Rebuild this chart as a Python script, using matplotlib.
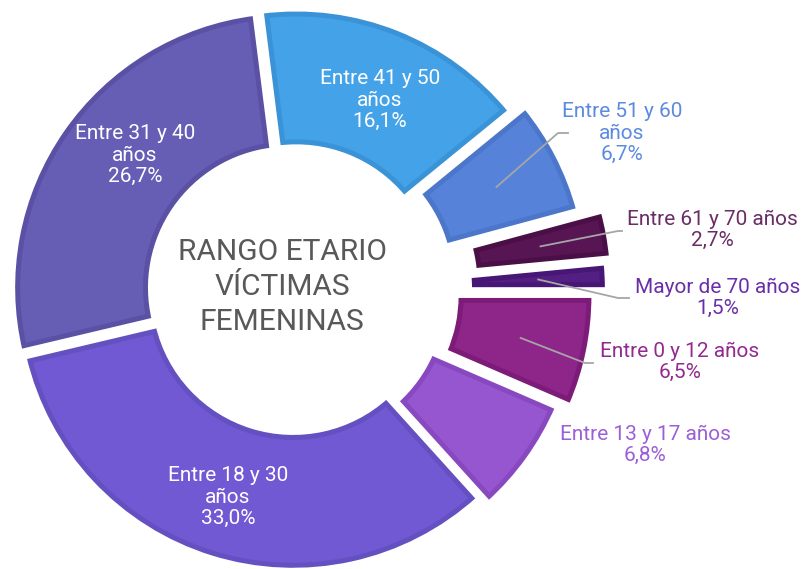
import math
import numpy as np
import matplotlib.pyplot as plt
from matplotlib.patches import Polygon

plt.rcParams['font.family'] = ['Roboto', 'DejaVu Sans']

# datos
rangos = ['Entre 0 y 12 años', 'Entre 13 y 17 años', 'Entre 18 y 30 años',
          'Entre 31 y 40 años', 'Entre 41 y 50 años', 'Entre 51 y 60 años',
          'Entre 61 y 70 años', 'Mayor de 70 años']
porcentajes = [6.5, 6.8, 33.0, 26.7, 16.1, 6.7, 2.7, 1.5]
titulo = 'RANGO ETARIO\nVÍCTIMAS\nFEMENINAS'

# estilo
relleno = ['#8E2589', '#9556CF', '#7159D3', '#665DB5',
           '#44A2E8', '#5682DA', '#571553', '#541F82']
borde = ['#7D1B79', '#8849C0', '#6450C0', '#5A51A5',
         '#3A93D6', '#4B76CA', '#4B0F47', '#481776']
color_texto = ['#932A8F', '#9C5FD8', 'white', 'white',
               'white', '#5C8AE0', '#6A2D66', '#6A2FA8']
separacion = [24, 12, 3, 6, 6, 20, 43, 37]
# cortes de linea de cada etiqueta
cortes = ['linea', 'linea', 'tres', 'tres', 'tres', 'tres', 'linea', 'linea']
pos_texto = [(680, 362), (645, 445), (228, 497), (135, 155),
             (380, 100), (622, 133), (712, 230), (718, 298)]
guia = [[(585, 363), (593, 363)], None, None, None, None,
        [(558, 133), (568, 133)], [(618, 231), (622, 231)],
        [(618, 298), (629, 298)]]

linea_blanca = 3.0   # pt, hueco entre porciones
grosor_borde = 5     # px, borde oscuro interior


def interior(w, b):
    # porcion reducida b unidades hacia dentro en todos sus lados
    cx, cy = w.center
    t1, t2 = math.radians(w.theta1), math.radians(w.theta2)
    ro = w.r - b
    ri = w.r - w.width + b
    ao, ai = math.asin(b / ro), math.asin(b / ri)
    ext = [(cx + ro * math.cos(t), cy + ro * math.sin(t))
           for t in np.linspace(t1 + ao, t2 - ao, 80)]
    inn = [(cx + ri * math.cos(t), cy + ri * math.sin(t))
           for t in np.linspace(t2 - ai, t1 + ai, 80)]
    return ext + inn


fig = plt.figure(figsize=(8.06, 5.69), dpi=100)
ax = fig.add_axes([0, 0, 1, 1])

# anillo (color de borde) y hueco blanco
wedges, _ = ax.pie(porcentajes, radius=276, center=(294, 291),
                   explode=separacion, startangle=0, counterclock=True,
                   colors=borde, wedgeprops=dict(width=137, linewidth=0))
ax.pie(porcentajes, radius=276, center=(294, 291),
       explode=separacion, startangle=0, counterclock=True,
       colors=['none'] * len(porcentajes),
       wedgeprops=dict(width=137, edgecolor='white', linewidth=linea_blanca))

mitad = linea_blanca / 72 * 100 / 2
for w, c in zip(wedges, relleno):
    ax.add_patch(Polygon(interior(w, mitad + grosor_borde), closed=True,
                         facecolor=c, edgecolor='none', zorder=3))

ax.set_xlim(0, 806)
ax.set_ylim(569, 0)
ax.axis('off')

for i, w in enumerate(wedges):
    pct = f'{porcentajes[i]:.1f}'.replace('.', ',') + '%'
    nombre = rangos[i]
    if cortes[i] == 'tres':
        nombre = nombre.replace(' años', '\naños')
    ax.text(pos_texto[i][0], pos_texto[i][1], nombre + '\n' + pct,
            ha='center', va='center', fontsize=15, color=color_texto[i],
            linespacing=1.15, zorder=5)
    if guia[i] is not None:
        tm = math.radians((w.theta1 + w.theta2) / 2)
        r = w.r - w.width / 2
        x0 = w.center[0] + r * math.cos(tm)
        y0 = w.center[1] + r * math.sin(tm)
        xs = [x0] + [p[0] for p in guia[i]]
        ys = [y0] + [p[1] for p in guia[i]]
        ax.plot(xs, ys, color='#A6A6A6', lw=1.3, zorder=4)

ax.text(282, 287, titulo, ha='center', va='center', fontsize=21.5,
        color='#595959', linespacing=1.3)

fig.savefig('out.png', dpi=100)
